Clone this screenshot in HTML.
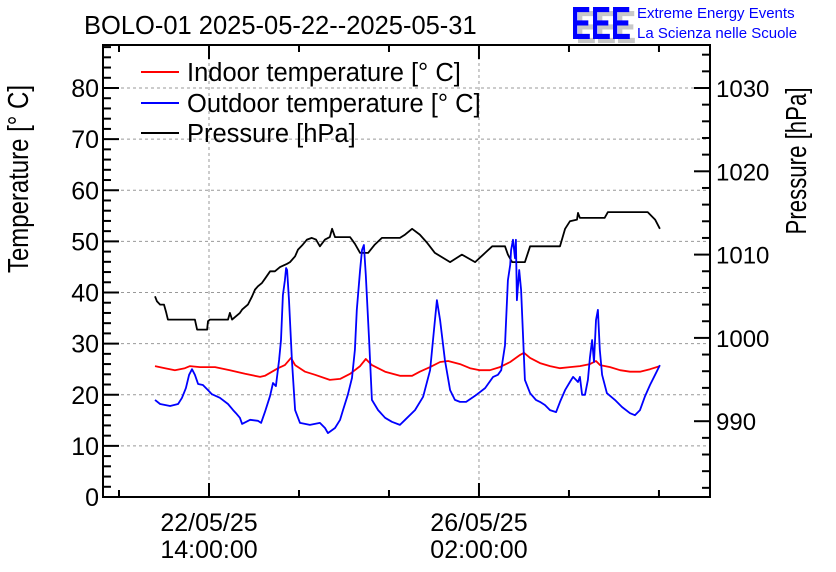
<!DOCTYPE html>
<html><head><meta charset="utf-8"><style>
html,body{margin:0;padding:0;background:#fff;}
svg{display:block;font-family:"Liberation Sans",sans-serif;}
</style></head><body>
<svg id="chart" width="836" height="572" viewBox="0 0 836 572" xmlns="http://www.w3.org/2000/svg">
<rect x="0" y="0" width="836" height="572" fill="#fff"/>
<g id="grid"></g>
<g id="series"></g>
<g id="axes"></g>
<text x="84" y="34" font-size="25.5">BOLO-01 2025-05-22--2025-05-31</text>
<g>
<text x="573" y="41" font-size="46" fill="#c8c8c8" font-weight="bold" transform="translate(3,2)" textLength="60" lengthAdjust="spacingAndGlyphs">EEE</text>
<text x="571" y="39" font-size="46" fill="#0000ff" font-weight="bold" textLength="60" lengthAdjust="spacingAndGlyphs">EEE</text>
<text x="637" y="18" font-size="15" fill="#0000ff">Extreme Energy Events</text>
<text x="637" y="38" font-size="15" fill="#0000ff">La Scienza nelle Scuole</text>
</g>
<text transform="translate(28,179) rotate(-90)" text-anchor="middle" font-size="29" textLength="188" lengthAdjust="spacingAndGlyphs">Temperature [° C]</text>
<text transform="translate(806,161) rotate(-90)" text-anchor="middle" font-size="29" textLength="147" lengthAdjust="spacingAndGlyphs">Pressure [hPa]</text>
<g>
<g><line x1="141" y1="72" x2="179" y2="72" stroke="#ff0000" stroke-width="2"/><text x="187" y="81" font-size="25.5">Indoor temperature [° C]</text></g>
<g><line x1="141" y1="103" x2="179" y2="103" stroke="#0000ff" stroke-width="2"/><text x="187" y="112" font-size="25.5">Outdoor temperature [° C]</text></g>
<g><line x1="141" y1="133" x2="179" y2="133" stroke="#000" stroke-width="2"/><text x="187" y="142" font-size="25.5">Pressure [hPa]</text></g>
</g>
</svg>
<script>
// hours since 22/05/25 14:00
const outdoorHours=[-16.8,-15.2,-12.1,-9.6,-8.4,-7.2,-6.2,-5.3,-4.4,-3.4,-1.9,-0.3,0.9,3.4,5.9,7.5,8.4,9.6,10.3,12.8,15.2,16.2,17.4,19.0,19.9,20.8,21.8,22.4,23.0,23.6,24.0,24.3,24.9,25.8,26.8,28.3,31.4,34.5,36.1,37.0,39.2,40.8,41.7,43.2,44.5,45.4,46.0,47.0,47.6,48.2,48.8,49.8,50.7,52.6,54.8,56.9,59.4,61.0,64.1,66.6,68.8,70.0,70.9,71.9,73.4,75.0,76.5,78.1,80.0,82.8,85.9,88.4,89.9,90.9,92.1,93.0,93.7,94.0,94.6,95.2,95.5,95.8,96.5,97.1,97.7,98.3,99.9,101.7,103.0,104.5,106.1,108.0,109.2,110.8,112.3,113.3,114.2,114.8,115.4,116.1,117.0,117.9,118.5,119.2,119.8,120.4,121.0,121.6,122.3,123.8,126.3,128.5,131.0,132.5,134.1,135.6,137.2,138.8,140.3];
const outdoorTemp=[19.0,18.2,17.8,18.2,19.4,21.3,23.9,25.0,23.9,22.1,21.9,20.9,20.1,19.4,18.2,17.0,16.4,15.5,14.3,15.1,14.9,14.5,16.6,19.8,22.3,21.7,26.8,30.7,39.5,42.4,44.8,44.4,38.5,26.8,17.0,14.5,14.1,14.5,13.5,12.5,13.5,15.1,17.0,20.0,23.3,28.8,36.6,44.4,48.3,49.3,43.4,30.7,19.0,17.0,15.5,14.7,14.1,15.1,17.0,19.6,24.8,32.7,38.5,34.6,26.8,20.9,19.0,18.6,18.6,19.8,21.3,23.5,23.9,24.8,29.7,42.4,45.4,48.3,50.3,46.7,50.3,38.5,44.4,40.5,31.7,22.9,20.3,19.0,18.6,18.0,17.0,16.6,18.6,20.9,22.5,23.5,22.9,22.5,23.5,20.0,20.0,22.9,27.2,30.7,26.4,34.6,36.6,28.8,23.9,20.3,19.0,17.6,16.4,16.0,17.0,19.6,21.9,23.9,25.8];
const indoorHours=[-16.8,-13.7,-10.6,-7.5,-5.9,-2.8,1.9,6.5,11.2,15.9,17.4,19.0,21.5,23.6,25.5,26.8,29.9,33.0,37.6,40.8,43.9,47.0,48.8,50.7,54.8,59.4,63.2,65.6,68.8,71.9,74.4,78.1,81.2,84.3,87.4,90.5,93.7,96.8,98.0,99.9,103.0,106.1,109.2,112.3,115.4,118.5,120.4,121.7,124.8,127.9,131.0,134.1,137.2,140.3];
const indoorTemp=[25.6,25.2,24.8,25.2,25.6,25.4,25.4,24.8,24.1,23.5,23.7,24.3,25.2,25.8,27.2,25.8,24.5,23.9,22.9,23.1,24.1,25.6,27.0,25.8,24.5,23.7,23.7,24.5,25.4,26.4,26.6,26.0,25.2,24.8,24.8,25.4,26.4,27.8,28.2,27.2,26.2,25.6,25.2,25.4,25.6,26.0,26.6,25.8,25.4,24.8,24.5,24.5,25.0,25.6];
const pressureHours=[-16.8,-16.2,-15.2,-14.0,-13.3,-12.8,-4.4,-3.7,-0.6,-0.3,0.3,5.9,6.5,7.2,9.6,10.3,12.1,13.4,14.3,15.2,16.5,17.4,19.0,20.5,22.1,24.3,25.2,26.8,27.7,29.2,30.5,32.0,33.3,34.5,36.1,37.6,38.3,39.2,43.9,45.4,47.0,49.5,51.6,53.8,59.4,61.0,63.2,65.6,67.9,70.3,75.0,78.7,82.8,85.9,88.1,92.1,93.0,94.3,98.3,99.9,109.2,110.8,112.3,114.5,114.8,115.4,123.1,124.1,136.5,138.8,140.3];
const pressureVal=[1005.0,1004.4,1004.0,1004.0,1003.0,1002.2,1002.2,1001.0,1001.0,1002.0,1002.2,1002.2,1003.0,1002.2,1003.0,1003.4,1004.0,1005.0,1005.8,1006.2,1006.6,1007.1,1008.0,1008.0,1008.5,1008.9,1009.1,1009.8,1010.6,1011.2,1011.8,1012.0,1011.8,1011.0,1011.8,1012.1,1013.1,1012.1,1012.1,1011.3,1010.2,1010.2,1011.2,1012.0,1012.0,1012.4,1013.1,1012.4,1011.4,1010.2,1009.1,1010.0,1009.1,1010.2,1011.0,1011.0,1010.0,1009.1,1009.1,1011.0,1011.0,1013.1,1014.0,1014.2,1015.0,1014.4,1014.4,1015.1,1015.1,1014.2,1013.1];
const xTickHours=[-28,0,28,56,84,112,140];
const xTickLabels=["","22/05/25|14:00:00","","","26/05/25|02:00:00","",""];
const tempTicks=[0,10,20,30,40,50,60,70,80];
const pressTicks=[990,1000,1010,1020,1030];

const L=103,R=710,T=45,B=497;
const xs=h=>209+h*3.214;
const yT=v=>B-v*5.1125;
const yP=p=>88+(1030-p)*8.33;
const NS="http://www.w3.org/2000/svg";
function mk(tag,parent,attrs){const e=document.createElementNS(NS,tag);for(const k in attrs)e.setAttribute(k,attrs[k]);parent.appendChild(e);return e;}
const grid=document.getElementById('grid'),axes=document.getElementById('axes'),ser=document.getElementById('series');

tempTicks.forEach(v=>{const g=mk('line',grid,{x1:L,x2:R,y1:yT(v),y2:yT(v),stroke:'#999','stroke-dasharray':'3,3','stroke-width':1});

});
xTickHours.forEach((h,i)=>{if(xTickLabels[i]){const g=mk('line',grid,{x1:xs(h),x2:xs(h),y1:T,y2:B,stroke:'#999','stroke-dasharray':'3,3','stroke-width':1});

}});

function poly(hs,vs,yf,color,name){const pts=hs.map((h,i)=>xs(h).toFixed(1)+','+yf(vs[i]).toFixed(1)).join(' ');
const p=mk('polyline',ser,{points:pts,fill:'none',stroke:color,'stroke-width':1.8,'stroke-linejoin':'round'});

}
poly(pressureHours,pressureVal,yP,'#000','pressure-line');
poly(indoorHours,indoorTemp,yT,'#ff0000','indoor-temperature-line');
poly(outdoorHours,outdoorTemp,yT,'#0000ff','outdoor-temperature-line');

const frame=mk('rect',axes,{x:L,y:T,width:R-L,height:B-T,fill:'none',stroke:'#000','stroke-width':2});


for(let v=0;v<=88;v+=2){const maj=v%10===0;mk('line',axes,{x1:L,x2:L+(maj?16:8),y1:yT(v),y2:yT(v),stroke:'#000','stroke-width':2});}
tempTicks.forEach(v=>{const t=mk('text',axes,{x:L-4,y:yT(v)+9,'text-anchor':'end','font-size':25});t.textContent=v;

});
for(let p=982;p<=1034;p+=2){const maj=p%10===0;mk('line',axes,{x1:R,x2:R-(maj?16:8),y1:yP(p),y2:yP(p),stroke:'#000','stroke-width':2});}
pressTicks.forEach(p=>{const t=mk('text',axes,{x:R+6,y:yP(p)+9,'font-size':24});t.textContent=p;

});
xTickHours.forEach((h,i)=>{const maj=!!xTickLabels[i];const len=maj?14:7;
mk('line',axes,{x1:xs(h),x2:xs(h),y1:B,y2:B-len,stroke:'#000','stroke-width':2});
mk('line',axes,{x1:xs(h),x2:xs(h),y1:T,y2:T+len,stroke:'#000','stroke-width':2});
if(maj){const parts=xTickLabels[i].split('|');parts.forEach((s,j)=>{const t=mk('text',axes,{x:xs(h),y:531+j*27,'text-anchor':'middle','font-size':25});t.textContent=s;

});}});
</script>
</body></html>
